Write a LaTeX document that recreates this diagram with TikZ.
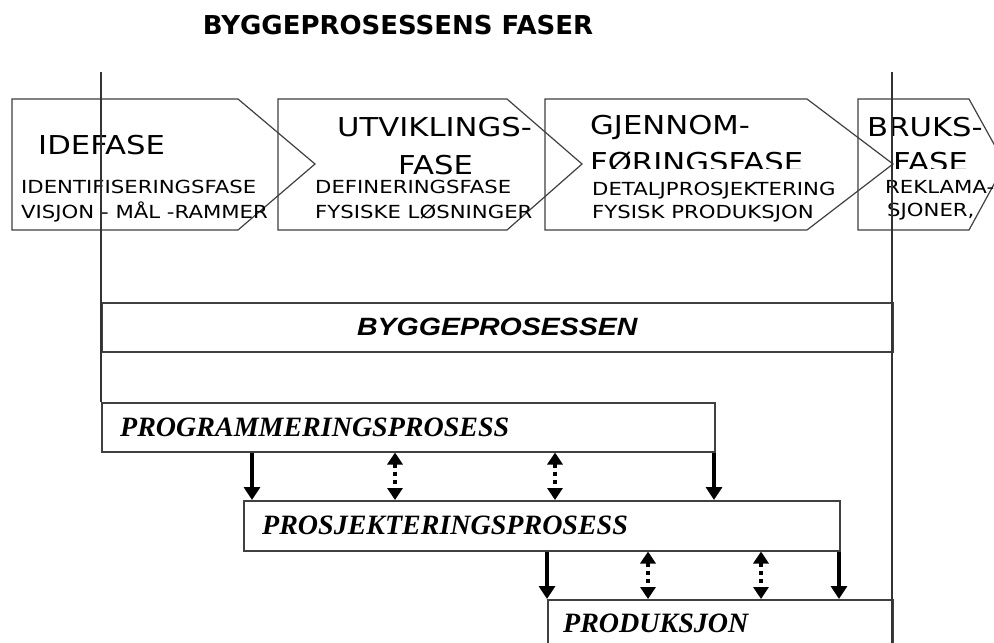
\documentclass[tikz,border=0pt]{standalone}
\usepackage{fontspec}
\usetikzlibrary{arrows.meta,positioning}
\newfontfamily\comicfont{DejaVu Sans}[FakeStretch=1.18]
\newfontfamily\titlefont{DejaVu Sans}
\newfontfamily\arialfont{Liberation Sans}[FakeStretch=1.14]
\newfontfamily\timesfont{Liberation Serif}
\tikzset{
    phase/.style={draw=black!75, line width=1.2pt},
    vline/.style={draw=black!80, line width=2pt},
    bigtext/.style={font=\comicfont\fontsize{26}{28}\selectfont, inner sep=0pt,
    	anchor=west},
    smalltext/.style={font=\comicfont\fontsize{18}{20}\selectfont, inner sep=0pt,
    	anchor=west}
}
\tikzset{
    procbox/.style={draw=black!75, line width=1.5pt, rectangle, inner sep=0pt,
    	anchor=north west},
    proctext/.style={font=\timesfont\bfseries\itshape\fontsize{28}{30}\selectfont,
    	inner sep=0pt, anchor=west}
}
\tikzset{
    down/.style={-{Triangle[width=16pt,length=13pt]}, line width=3.5pt},
    updown/.style={{Triangle[width=15pt,length=12pt]}-{Triangle[width=15pt,length=12pt]},
    	line width=3.5pt, dash pattern=on 4pt off 4pt}
}

\begin{document}
\begin{tikzpicture}[x=1pt, y=-1pt]
  \clip (0,0) rectangle (994,643);
  \fill[white] (0,0) rectangle (994,643);

  \node (title) [font=\titlefont\bfseries\fontsize{26}{28}\selectfont, inner sep=0pt]
  	at (398,25) {BYGGEPROSESSENS FASER};

  % phases
  \draw[phase] (12,99) -- (238,99) -- (315,164) -- (238,230) -- (12,230) -- cycle;
  \draw[phase] (278,99) -- (507,99) -- (582,164) -- (507,230) -- (278,230) -- cycle;
  \draw[phase] (545,99) -- (807,99) -- (893,164) -- (807,230) -- (545,230) -- cycle;
  \draw[phase] (858,99) -- (969,99) -- (1005,164) -- (969,230) -- (858,230) -- cycle;

  \node (ide) [bigtext] at (38,145) {IDEFASE};
  \node (ide1) [smalltext] at (21,187) {IDENTIFISERINGSFASE};
  \node (ide2) [smalltext] at (21,212) {VISJON - MÅL -RAMMER};

  \node (utv) [bigtext] at (337,127) {UTVIKLINGS-};
  \node (utvb) [bigtext] at (398,165) {FASE};
  \node (utv1) [smalltext] at (315,187) {DEFINERINGSFASE};
  \node (utv2) [smalltext] at (315,212) {FYSISKE LØSNINGER};

  \node (gjen) [bigtext] at (590,127) {GJENNOM-};
  \node (gjen1) [smalltext] at (592,191) {DETALJPROSJEKTERING};
  \node (gjen2) [smalltext] at (592,214) {FYSISK PRODUKSJON};

  \node (bruk) [bigtext] at (867,127) {BRUKS-};
  \node (bruk1) [smalltext] at (885,187) {REKLAMA-};
  \node (bruk2) [smalltext] at (887,212) {SJONER,};

  \begin{scope}
    \clip (540,140) rectangle (994,168.5);
    \node (gjenb) [bigtext] at (590,162.5) {FØRINGSFASE};
    \node (brukb) [bigtext] at (893,162.5) {FASE};
  \end{scope}

  % processes
  \node (bygg) [procbox, minimum width=791pt, minimum height=49pt] at (101,302) {};
  \node (byggtext) [font=\arialfont\bfseries\itshape\fontsize{25}{27}\selectfont,
  	inner sep=0pt] at (bygg.center) {BYGGEPROSESSEN};

  \node (prog) [procbox, minimum width=613pt, minimum height=49pt] at (101,402) {};
  \node (progtext) [proctext, right=19pt of prog.west] {PROGRAMMERINGSPROSESS};

  \node (prosj) [procbox, minimum width=596pt, minimum height=50pt] at (243,500) {};
  \node (prosjtext) [proctext, right=19pt of prosj.west] {PROSJEKTERINGSPROSESS};

  \node (prod) [procbox, minimum width=345pt, minimum height=90pt] at (547,599) {};
  \node (prodtext) [proctext, below right=24pt and 16pt of prod.north west,
  	anchor=west] {PRODUKSJON};

  \draw[vline] (101,72) -- (prog.north west);
  \draw[vline] (892,72) -- (892,660);

  \foreach \x in {252,714} {
    \coordinate (a) at (\x,0);
    \draw[down] (prog.south -| a) -- (prosj.north -| a);
  }
  \foreach \x in {395,555} {
    \coordinate (a) at (\x,0);
    \draw[updown] (prog.south -| a) -- (prosj.north -| a);
  }
  \foreach \x in {547,839} {
    \coordinate (a) at (\x,0);
    \draw[down] (prosj.south -| a) -- (prod.north -| a);
  }
  \foreach \x in {648,761} {
    \coordinate (a) at (\x,0);
    \draw[updown] (prosj.south -| a) -- (prod.north -| a);
  }
\end{tikzpicture}
\end{document}
